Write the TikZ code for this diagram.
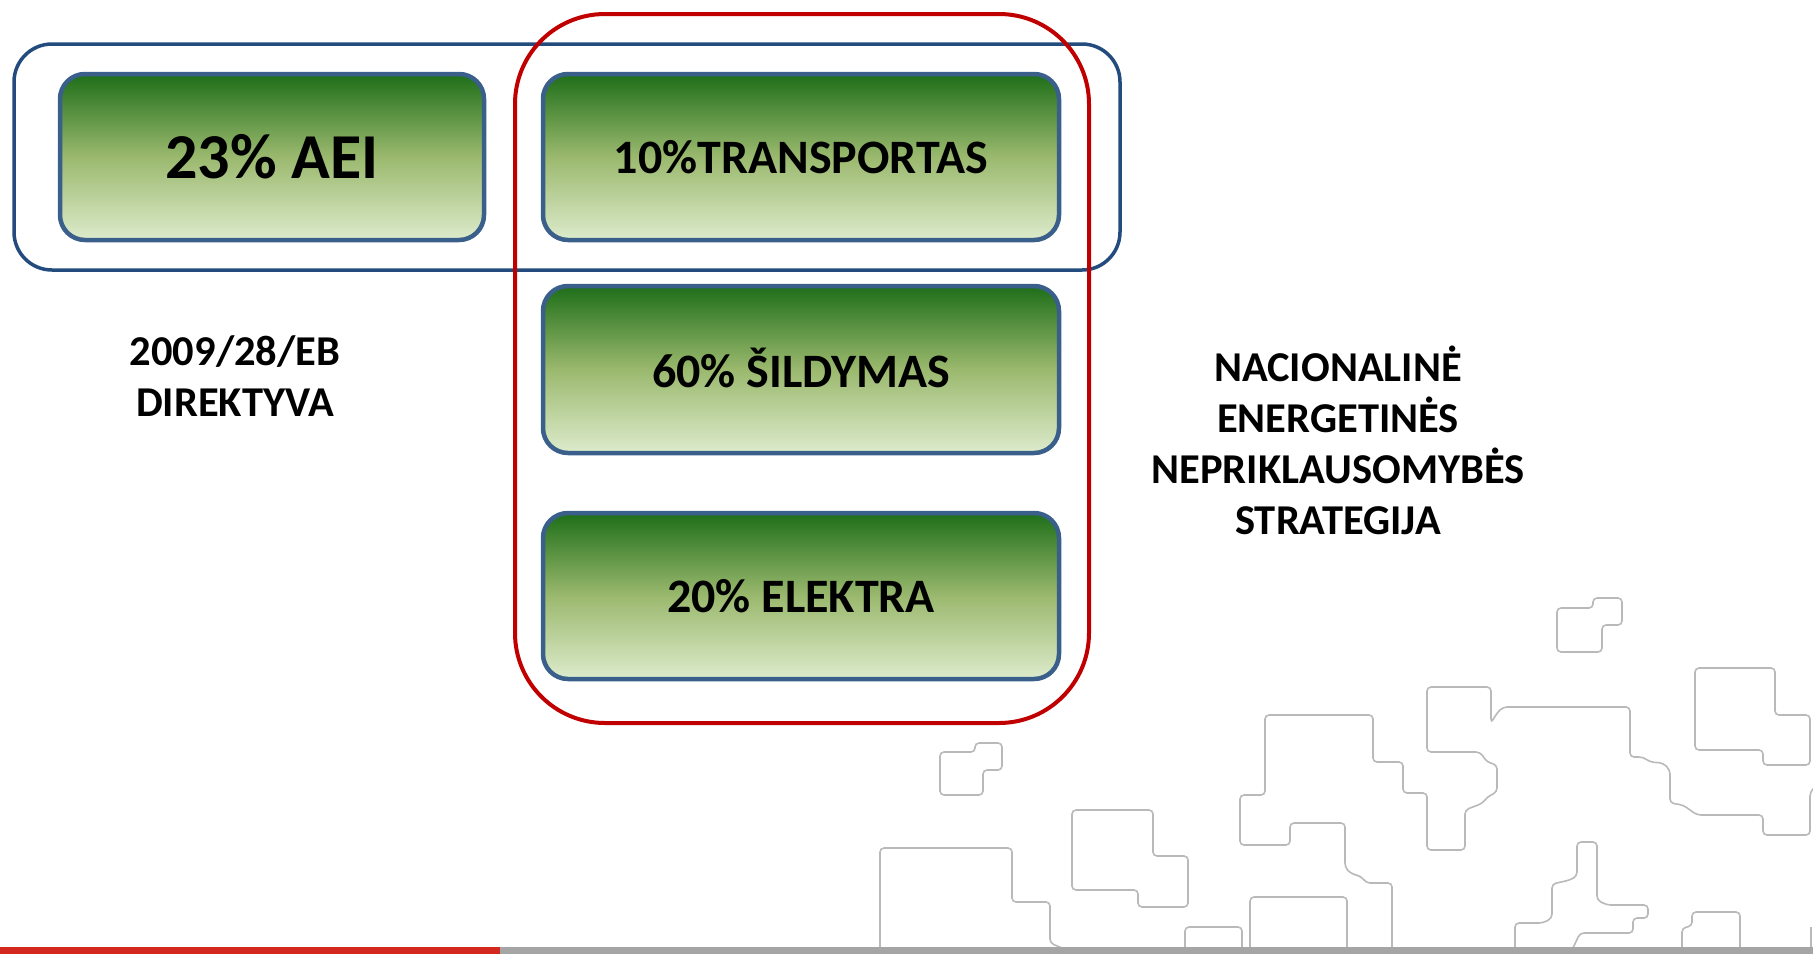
\documentclass[tikz,border=0pt]{standalone}
\usepackage{fontspec}
\setmainfont{Carlito}
\definecolor{gtop}{RGB}{30,110,25}
\definecolor{gmid}{RGB}{155,185,110}
\definecolor{gbot}{RGB}{221,235,204}
\definecolor{boxedge}{RGB}{58,95,138}
\definecolor{outerblue}{RGB}{35,75,125}
\definecolor{outerred}{RGB}{192,0,0}
\definecolor{decogray}{RGB}{185,185,185}
\definecolor{barred}{RGB}{210,40,30}
\definecolor{bargray}{RGB}{165,165,165}
\tikzset{
  gbox/.style={draw=boxedge, line width=4.5pt, rounded corners=25pt,
    top color=gtop, bottom color=gbot, middle color=gmid, inner sep=0pt,
    font=\fontsize{48}{53}\selectfont\bfseries},
  frameblue/.style={draw=outerblue, line width=3.5pt, rounded corners=38pt, inner sep=0pt},
  framered/.style={draw=outerred, line width=4pt, rounded corners=90pt, inner sep=0pt},
  lbl/.style={align=center, inner sep=0pt, font=\fontsize{42.5}{51}\selectfont\bfseries},
  deco/.style={draw=decogray, line width=1.6pt, rounded corners=4pt}
}
\begin{document}
\begin{tikzpicture}[x=1pt,y=-1pt]
\useasboundingbox (0,0) rectangle (1813,954);
% decorative outlines
\draw[deco] (1593,598) -- (1622,598) -- (1622,625) -- (1602,625) -- (1602,652) -- (1557,652) -- (1557,608) -- (1593,608) -- cycle;
\draw[deco] (975,743) -- (1002,743) -- (1002,770) -- (983,770) -- (983,795) -- (940,795) -- (940,752) -- (975,752) -- cycle;
\draw[deco] (1072,810) -- (1153,810) -- (1153,856) -- (1188,856) -- (1188,907) -- (1138,907) -- (1138,890) -- (1072,890) -- cycle;
\draw[deco] (880,948) -- (880,848) -- (1012,848) -- (1012,902) -- (1050,902) -- (1050,943) -- (1062,948);
\draw[deco] (1185,948) -- (1185,927) -- (1242,927) -- (1242,948);
\draw[deco] (1250,948) -- (1250,897) -- (1347,897) -- (1347,948);
\draw[deco] (1695,668) -- (1775,668) -- (1775,715) -- (1810,715) -- (1810,765) -- (1763,765) -- (1763,750) -- (1695,750) -- cycle;
\draw[deco] (1392,948) -- (1392,883) -- (1366,883) -- (1362,877) -- (1350,873) -- (1345,867) -- (1345,823) -- (1290,823) -- (1290,845) -- (1240,845) -- (1240,795) -- (1265,795) -- (1265,715) -- (1373,715) -- (1373,762) -- (1403,762) -- (1403,793) -- (1427,793) -- (1427,850) -- (1465,850) -- (1465,810) -- (1483,803) -- (1487,797) -- (1497,792) -- (1497,765) -- (1487,762) -- (1480,752) -- (1427,752) -- (1427,687) -- (1491,687) -- (1491,723) -- (1497,713) -- (1503,707) -- (1630,707) -- (1630,757) -- (1643,757) -- (1650,762) -- (1663,763) -- (1670,770) -- (1670,803) -- (1683,805) -- (1697,815) -- (1763,815) -- (1763,835) -- (1810,835) -- (1810,792) -- (1814,788);
\draw[deco] (1515,948) -- (1515,923) -- (1543,923) -- (1552,918) -- (1552,884) -- (1570,880) -- (1577,876) -- (1577,842) -- (1597,842) -- (1597,900) -- (1607,905) -- (1648,905) -- (1648,918) -- (1633,918) -- (1633,933) -- (1580,933) -- (1573,948);
\draw[deco] (1682,948) -- (1682,928) -- (1692,926) -- (1692,912) -- (1740,912) -- (1740,948);
\draw[deco] (1811,927) -- (1811,948);
% bottom bar
\fill[barred] (0,947) rectangle (500,954);
\fill[bargray] (500,947) rectangle (1813,954);
% frames
\node[frameblue, minimum width=1106pt, minimum height=226pt] (blueframe) at (567,157) {};
\node[framered, minimum width=574pt, minimum height=709pt] (redframe) at (802,368.5) {};
% green boxes
\node[gbox, minimum width=424pt, minimum height=166pt, font=\fontsize{64}{72}\selectfont\bfseries] (aei) at (272,157) {\raisebox{-1pt}{23\% AEI}};
\node[gbox, minimum width=516pt, minimum height=166pt] (trans) at (801,157) {10\%TRANSPORTAS};
\node[gbox, minimum width=516pt, minimum height=167pt] (sild) at (801,369.5) {\raisebox{2.5pt}{60\% ŠILDYMAS}};
\node[gbox, minimum width=516pt, minimum height=166pt] (elek) at (801,596) {20\% ELEKTRA};
% labels
\node[lbl] (dir) at (235,376.5) {2009/28/EB\\DIREKTYVA};
\node[lbl] (strat) at (1338,440.5) {NACIONALINĖ\\ENERGETINĖS\\NEPRIKLAUSOMYBĖS\\STRATEGIJA};
\end{tikzpicture}
\end{document}
